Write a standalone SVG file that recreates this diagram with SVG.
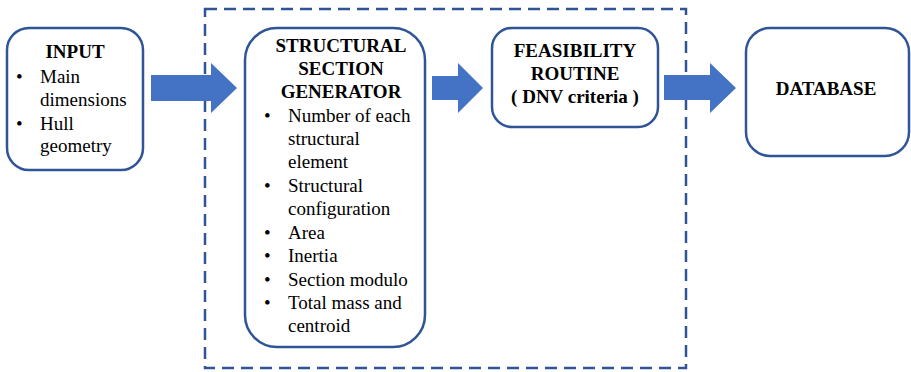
<svg xmlns="http://www.w3.org/2000/svg" width="911" height="372" viewBox="0 0 911 372">
<style>
.box{fill:#fff;stroke:#2F5597;stroke-width:2.5}
.arr{fill:#4472C4}
.t{font-family:'Liberation Serif','DejaVu Serif',serif;font-size:19px;fill:#000}
.b{font-weight:bold;text-anchor:middle}
</style>
<rect width="911" height="372" fill="#fff"/>
<rect x="205" y="9" width="481" height="359" fill="none" stroke="#2F5597" stroke-width="2.5" stroke-dasharray="12 7"/>
<g id="connectors">
<polygon class="arr" points="151,75 211,75 211,63 237,88 211,113 211,101 151,101"/>
<polygon class="arr" points="432,76 458,76 458,63 483,88 458,113 458,100 432,100"/>
<polygon class="arr" points="664,75 710,75 710,63 736,88 710,113 710,100 664,100"/>
</g>
<g id="input" font-family="Liberation Serif, serif">
<rect class="box" x="7" y="28" width="136" height="142" rx="22"/>
<text class="t b" x="75" y="58">INPUT</text>
<text class="t" x="16" y="83">•</text><text class="t" x="40" y="83">Main</text>
<text class="t" x="40" y="106">dimensions</text>
<text class="t" x="16" y="130">•</text><text class="t" x="40" y="130">Hull</text>
<text class="t" x="40" y="152">geometry</text>
</g>
<g id="ssg">
<rect class="box" x="245" y="28" width="180" height="319" rx="32"/>
<text class="t b" x="341" y="52">STRUCTURAL</text>
<text class="t b" x="341" y="75">SECTION</text>
<text class="t b" x="341" y="98">GENERATOR</text>
<text class="t" x="264" y="122">•</text><text class="t" x="288" y="122">Number of each</text>
<text class="t" x="288" y="145">structural</text>
<text class="t" x="288" y="168">element</text>
<text class="t" x="264" y="192">•</text><text class="t" x="288" y="192">Structural</text>
<text class="t" x="288" y="215">configuration</text>
<text class="t" x="264" y="239">•</text><text class="t" x="288" y="239">Area</text>
<text class="t" x="264" y="262">•</text><text class="t" x="288" y="262">Inertia</text>
<text class="t" x="264" y="286">•</text><text class="t" x="288" y="286">Section modulo</text>
<text class="t" x="264" y="309">•</text><text class="t" x="288" y="309">Total mass and</text>
<text class="t" x="288" y="332">centroid</text>
</g>
<g id="feasibility">
<rect class="box" x="492" y="28" width="166" height="99" rx="20"/>
<text class="t b" x="575" y="57">FEASIBILITY</text>
<text class="t b" x="575" y="80">ROUTINE</text>
<text class="t b" x="575" y="103">( DNV criteria )</text>
</g>
<g id="database">
<rect class="box" x="746" y="28" width="163" height="128" rx="24"/>
<text class="t b" x="826" y="95">DATABASE</text>
</g>
</svg>
